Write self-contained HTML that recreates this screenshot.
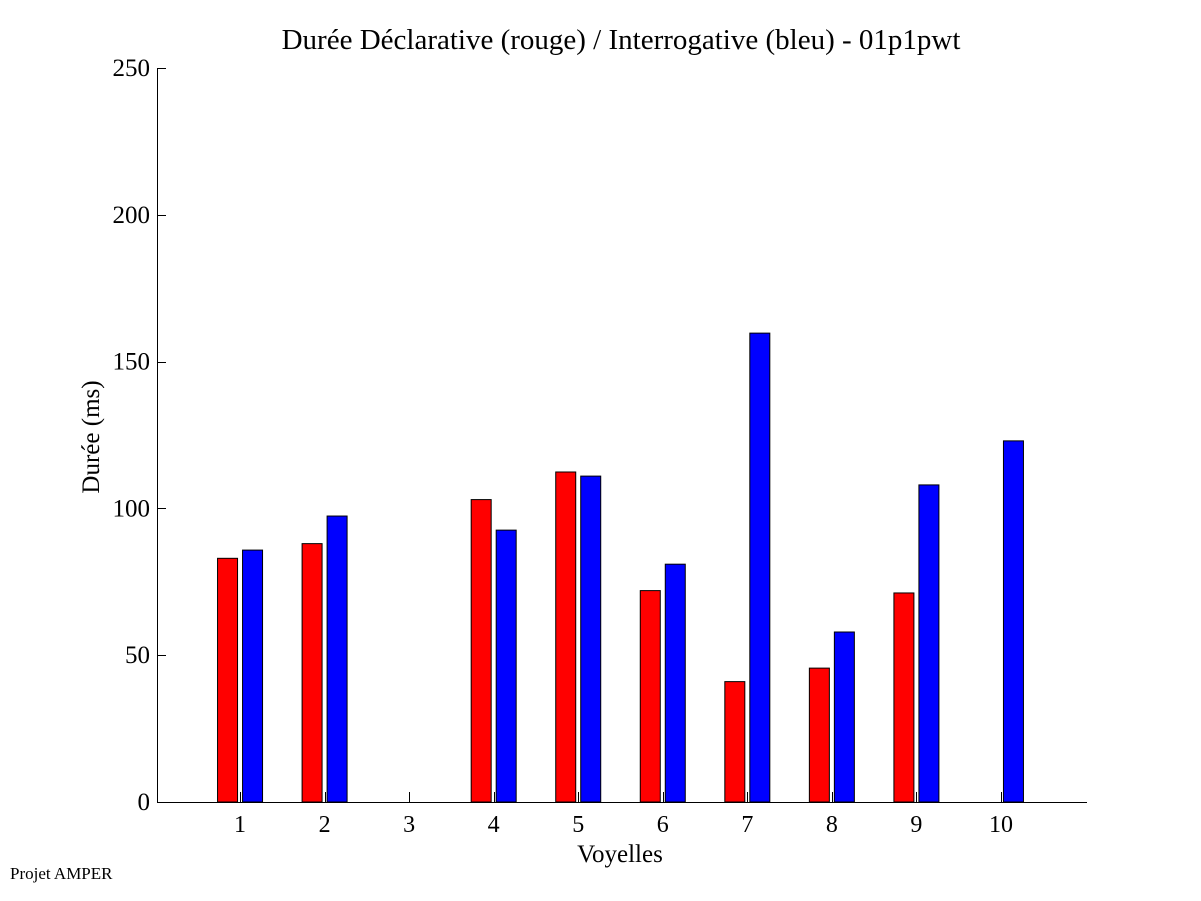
<!DOCTYPE html>
<html><head><meta charset="utf-8"><style>
html,body{margin:0;padding:0;background:#fff}
svg{display:block;font-family:"Liberation Serif",serif}
</style></head><body>
<svg id="chart" width="1201" height="901" viewBox="0 0 1201 901" xmlns="http://www.w3.org/2000/svg">
<rect x="0" y="0" width="1201" height="901" fill="#fff"/>
<text x="621" y="49" font-size="29" text-anchor="middle">Durée Déclarative (rouge) / Interrogative (bleu) - 01p1pwt</text>
<text transform="translate(99,437) rotate(-90)" font-size="25" text-anchor="middle">Durée (ms)</text>
<text x="620" y="862" font-size="25" text-anchor="middle">Voyelles</text>
<text x="10" y="879" font-size="17">Projet AMPER</text>
<g id="marks"></g>
<g id="axes"></g>
</svg>
<script>
const categories = ["1","2","3","4","5","6","7","8","9","10"];
const declarative = [83, 88, 0, 103, 112.4, 72, 41, 45.6, 71.2, 0];
const interrogative = [85.8, 97.4, 0, 92.6, 111, 81, 159.7, 57.9, 108, 123];
const yTicks = [0, 50, 100, 150, 200, 250];

const X0 = 157, X1 = 1087, Y0 = 802, Y1 = 68;
const xMin = 0, xMax = 11, yMin = 0, yMax = 250;
function xs(v){ return X0 + (v - xMin) / (xMax - xMin) * (X1 - X0); }
function ys(v){ return Y0 - (v - yMin) / (yMax - yMin) * (Y0 - Y1); }
const NS = "http://www.w3.org/2000/svg";
const marks = document.getElementById("marks");
const axes = document.getElementById("axes");
function mk(tag, attrs, parent){ const e = document.createElementNS(NS, tag); for (const k in attrs) e.setAttribute(k, attrs[k]); parent.appendChild(e); return e; }

const barW = 20;
categories.forEach((c, i) => {
  const cx = xs(i + 1) - 1.5;
  if (declarative[i] > 0) {
    const r = mk("rect", {x: cx - 22.5, y: ys(declarative[i]), width: barW, height: ys(0) - ys(declarative[i]), fill: "#ff0000", stroke: "#000", "stroke-width": 1}, marks);
    
    
  }
  if (interrogative[i] > 0) {
    const b = mk("rect", {x: cx + 2.5, y: ys(interrogative[i]), width: barW, height: ys(0) - ys(interrogative[i]), fill: "#0000ff", stroke: "#000", "stroke-width": 1}, marks);
    
    
  }
});

const xAxis = mk("line", {x1: X0, y1: Y0 + 0.5, x2: X1, y2: Y0 + 0.5, stroke: "#000", "stroke-width": 1}, axes);


const yAxis = mk("line", {x1: X0 + 0.5, y1: Y1, x2: X0 + 0.5, y2: Y0 + 0.5, stroke: "#000", "stroke-width": 1}, axes);



categories.forEach((c, i) => {
  const x = Math.round(xs(i + 1) - 1.5) + 0.5;
  mk("line", {x1: x, y1: Y0, x2: x, y2: Y0 - 10, stroke: "#000", "stroke-width": 1}, axes);
  const t = mk("text", {x: xs(i + 1) - 1.5, y: Y0 + 30, "font-size": 24, "text-anchor": "middle"}, axes);
  t.textContent = c;
  
  
});
yTicks.forEach(v => {
  const y = Math.round(ys(v)) + 0.5;
  mk("line", {x1: X0, y1: y, x2: X0 + 9, y2: y, stroke: "#000", "stroke-width": 1}, axes);
  const t = mk("text", {x: X0 - 7, y: ys(v) + 8, "font-size": 25, "text-anchor": "end"}, axes);
  t.textContent = v;
  
  
});
</script>
</body></html>
